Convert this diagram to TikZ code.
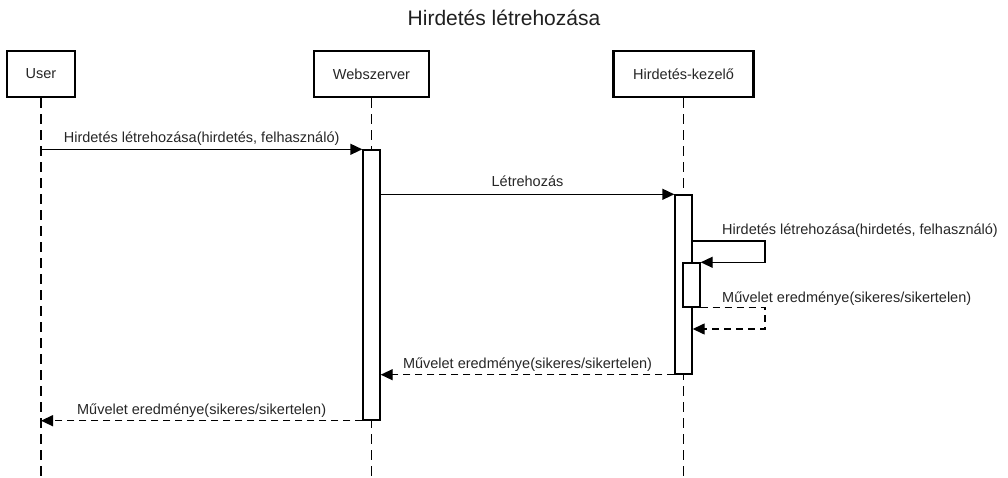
\documentclass[tikz,border=0pt]{standalone}
\usepackage{fontspec}
\setmainfont{Liberation Sans}
\usetikzlibrary{arrows.meta}

\tikzset{
	title/.style={font=\fontsize{21}{25}\selectfont, text=black!88, inner sep=0pt},
	lifebox/.style={draw, line width=2.4pt, fill=white, minimum height=46pt, font=\fontsize{14.5}{17}\selectfont, text=black!85},
	lifeline/.style={line width=1.4pt, dash pattern=on 10pt off 6pt},
	actbar/.style={draw, line width=1.4pt, fill=white, minimum width=17pt, inner sep=0pt},
	msg/.style={line width=1.4pt, -{Triangle[length=12pt, width=11pt]}},
	retmsg/.style={msg, dash pattern=on 7pt off 5pt},
	lbl/.style={font=\fontsize{14.5}{17}\selectfont, text=black!85, inner sep=0pt, text height=10.5pt, text depth=3pt}
}

\begin{document}
\begin{tikzpicture}[x=1pt, y=-1pt]
		%%%%% START %%%%%
		\useasboundingbox (0, 0) rectangle (1008, 478);
		
		\node[title] (cim) at (504, 18) {Hirdetés létrehozása};
		
		\node[lifebox, minimum width=68pt] (user) at (41, 74) {User};
		\node[lifebox, minimum width=115pt] (web) at (371.5, 74) {Webszerver};
		\node[lifebox, minimum width=140pt] (kezelo) at (683.5, 74) {Hirdetés-kezelő};
		
		\coordinate (userEnd) at (41, 478);
		\coordinate (webEnd) at (371.5, 478);
		\coordinate (kezeloEnd) at (683.5, 478);
		\draw[lifeline] (user.south) -- (userEnd);
		\draw[lifeline] (web.south) -- (webEnd);
		\draw[lifeline] (kezelo.south) -- (kezeloEnd);
		
		\node[actbar, minimum height=270pt] (actWeb) at (371.5, 285) {};
		\node[actbar, minimum height=179pt] (actKez) at (683.5, 284.5) {};
		\node[actbar, minimum height=44pt] (actSelf) at (691.5, 285) {};
		
		% hivasok
		\draw[msg] (user.south |- actWeb.north west) -- (actWeb.north west)
			node[lbl, midway, above=3pt] {Hirdetés létrehozása(hirdetés, felhasználó)};
		\draw[msg] (actWeb.east |- actKez.north west) -- (actKez.north west)
			node[lbl, midway, above=4pt] {Létrehozás};
		
		\coordinate (selfA) at (765, 241);
		\draw[msg] (actKez.east |- selfA) -- (selfA) -- (selfA |- actSelf.north east) -- (actSelf.north east);
		\node[lbl, anchor=base west] (selfLbl) at (722, 235) {Hirdetés létrehozása(hirdetés, felhasználó)};
		
		% valaszok
		\coordinate (selfB) at (765, 329);
		\draw[retmsg] (actSelf.south east) -- (selfB |- actSelf.south east) -- (selfB) -- (actKez.east |- selfB);
		\node[lbl, anchor=base west] (selfRetLbl) at (722, 302) {Művelet eredménye(sikeres/sikertelen)};
		
		\draw[retmsg] (actKez.south west) -- (actWeb.east |- actKez.south west)
			node[lbl, midway, above=3pt] {Művelet eredménye(sikeres/sikertelen)};
		\draw[retmsg] (actWeb.south west) -- (user.south |- actWeb.south west)
			node[lbl, midway, above=3pt] {Művelet eredménye(sikeres/sikertelen)};
		
		%%%%% END %%%%%
\end{tikzpicture}
\end{document}
